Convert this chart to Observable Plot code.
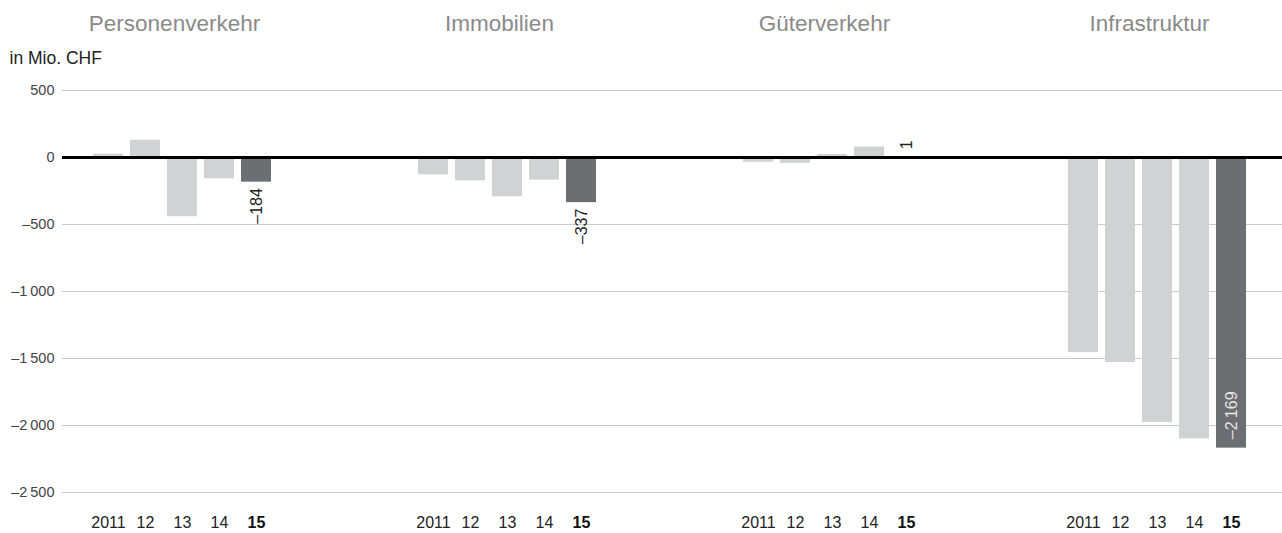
<!DOCTYPE html>
<html><head><meta charset="utf-8">
<script src="https://cdn.jsdelivr.net/npm/d3@7"></script>
<script src="https://cdn.jsdelivr.net/npm/@observablehq/plot@0.6"></script>
<style>
html,body{margin:0;padding:0;background:#fff;overflow:hidden;}
#chart svg{overflow:hidden;display:block;}
</style></head><body><div id="chart"></div>
<script>
// ---- data ----
const categories = ["Personenverkehr", "Immobilien", "Güterverkehr", "Infrastruktur"];
const yearLabels = ["2011", "12", "13", "14", "15"];
const personenverkehr = [25, 129, -442, -159, -184];
const immobilien = [-129, -174, -293, -169, -337];
const gueterverkehr = [-36, -44, 22, 78, 1];
const infrastruktur = [-1456, -1530, -1977, -2100, -2169];
const yTicks = [500, 0, -500, -1000, -1500, -2000, -2500];
const unitLabel = "in Mio. CHF";
const currentYear = "15";

// ---- build table ----
const seriesByCategory = [personenverkehr, immobilien, gueterverkehr, infrastruktur];
const rows = categories.flatMap((cat, i) =>
  seriesByCategory[i].map((value, j) => ({cat, year: yearLabels[j], value})));
const current = rows.filter(d => d.year === currentYear);

const fmt = v => d3.format(",")(v).replace(/,/g, "\u2009").replace("\u2212", "\u2013");

const light = "#d1d2d4", dark = "#6d6e71";
const font = "'Liberation Sans', Arial, Helvetica, sans-serif";

const chart = Plot.plot({
  width: 1282,
  height: 533,
  marginTop: 90,
  marginBottom: 41,
  marginLeft: 61,
  marginRight: 0,
  style: {fontFamily: font, fontSize: "14.5px", color: "#444", background: "#fff", overflow: "hidden"},
  fx: {domain: categories, range: [61, 61 + 4 * 325.5], padding: 0, axis: null, label: null},
  x: {domain: yearLabels, range: [90, 272], paddingInner: 0.18, paddingOuter: 0, axis: null, label: null},
  y: {domain: [-2500, 500], ticks: yTicks, tickFormat: fmt, tickSize: 0, tickPadding: 8, label: null, axis: "left"},
  marks: [
    Plot.ruleY(yTicks.filter(v => v !== 0), {stroke: "#cacaca", strokeWidth: 1}),
    Plot.barY(rows.filter(d => d.year !== currentYear), {fx: "cat", x: "year", y: "value", fill: light}),
    Plot.barY(current, {fx: "cat", x: "year", y: "value", fill: dark}),
    Plot.ruleY([0], {stroke: "#000", strokeWidth: 3}),
    // value labels for the current year
    Plot.text(current.filter(d => d.value < 0 && d.value > -1000), {
      fx: "cat", x: "year", y: "value", text: d => fmt(d.value), rotate: -90,
      textAnchor: "end", dy: 6, fontSize: 16, fill: "#222"
    }),
    Plot.text(current.filter(d => d.value <= -1000), {
      fx: "cat", x: "year", y: "value", text: d => fmt(d.value), rotate: -90,
      textAnchor: "start", dy: -9, fontSize: 16, fill: "#e6e6e6"
    }),
    Plot.text(current.filter(d => d.value >= 0), {
      fx: "cat", x: "year", y: "value", text: d => fmt(d.value), rotate: -90,
      textAnchor: "start", dy: -8, fontSize: 16, fill: "#222"
    }),
    // category titles
    Plot.text(categories, {
      fx: d => d, x: () => "13", text: d => d, frameAnchor: "top",
      dy: -75, dx: -8, fontSize: 22.5, fill: "#8a8a8a"
    }),
    // year labels
    Plot.text(yearLabels.filter(y => y !== currentYear), {
      x: d => d, text: d => d, frameAnchor: "bottom", dy: 35, fontSize: 16, fill: "#222"
    }),
    Plot.text([currentYear], {
      x: d => d, text: d => d, frameAnchor: "bottom", dy: 35, fontSize: 16, fontWeight: "bold", fill: "#111"
    }),
    // unit label
    Plot.text([unitLabel], {
      fx: () => categories[0], frameAnchor: "top-left", textAnchor: "start",
      dx: -53, dy: -39, fontSize: 17.5, fill: "#222"
    })
  ]
});
document.getElementById("chart").appendChild(chart);
</script></body></html>
